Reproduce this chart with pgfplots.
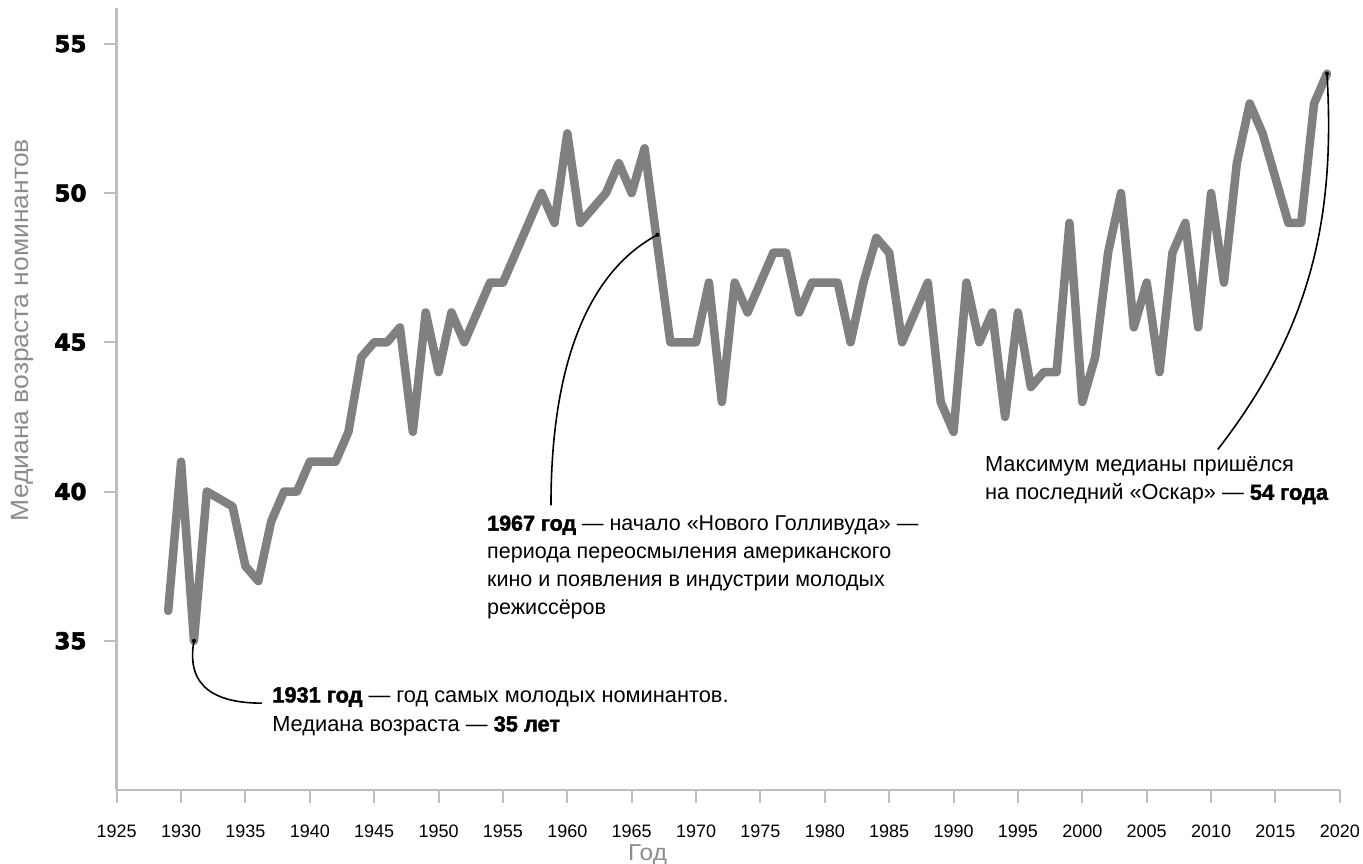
\documentclass[border=0pt]{standalone}
\usepackage{fontspec}
\setmainfont{Liberation Sans}
\newfontfamily\heavyfont{DejaVu Sans Bold}[FakeBold=2.8]
\newfontfamily\bfont{Liberation Sans Bold}[FakeBold=2]
\newfontfamily\labfont{Liberation Sans}[FakeStretch=1.06]
\usepackage{pgfplots}
\pgfplotsset{compat=1.18}
\definecolor{linegray}{RGB}{128,128,128}
\definecolor{axisgray}{RGB}{190,190,190}
\definecolor{labelgray}{RGB}{140,140,140}

\pgfplotstableread{
year age
1929 36
1930 41
1931 35
1932 40
1933 39.75
1934 39.5
1935 37.5
1936 37
1937 39
1938 40
1939 40
1940 41
1941 41
1942 41
1943 42
1944 44.5
1945 45
1946 45
1947 45.5
1948 42
1949 46
1950 44
1951 46
1952 45
1953 46
1954 47
1955 47
1956 48
1957 49
1958 50
1959 49
1960 52
1961 49
1962 49.5
1963 50
1964 51
1965 50
1966 51.5
1967 48.25
1968 45
1969 45
1970 45
1971 47
1972 43
1973 47
1974 46
1975 47
1976 48
1977 48
1978 46
1979 47
1980 47
1981 47
1982 45
1983 47
1984 48.5
1985 48
1986 45
1987 46
1988 47
1989 43
1990 42
1991 47
1992 45
1993 46
1994 42.5
1995 46
1996 43.5
1997 44
1998 44
1999 49
2000 43
2001 44.5
2002 48
2003 50
2004 45.5
2005 47
2006 44
2007 48
2008 49
2009 45.5
2010 50
2011 47
2012 51
2013 53
2014 52
2015 50.5
2016 49
2017 49
2018 53
2019 54
}\datatable

\begin{document}
\begin{tikzpicture}
\path[use as bounding box] (0,0) rectangle (1363pt,863pt);
\begin{axis}[
  at={(116.7pt,73pt)}, anchor=south west,
  scale only axis, width=1223.3pt, height=782pt,
  xmin=1925, xmax=2020, ymin=30, ymax=56.2,
  axis lines=left,
  axis line style={-, draw=axisgray, line width=2.5pt},
  xtick={1925,1930,...,2020},
  xticklabels={1925,1930,1935,1940,1945,1950,1955,1960,1965,1970,1975,1980,\raisebox{-3pt}{1985},1990,1995,2000,2005,2010,2015,2020},
  ytick={35,40,45,50,55},
  tick style={draw=axisgray, line width=2pt},
  tick align=outside,
  major tick length=13pt,
  /pgf/number format/assume math mode=true,
  /pgf/number format/1000 sep={},
  x tick label style={font=\fontsize{18}{20}\selectfont, text=black, inner sep=0pt, yshift=-22pt},
  y tick label style={font=\heavyfont\fontsize{23}{26}\selectfont, text=black, inner sep=0pt, xshift=-17pt},
  xlabel={Год},
  xlabel style={at={(axis description cs:0.434,-0.0825)}, anchor=center, font=\labfont\fontsize{23}{25}\selectfont, text=labelgray},
  ylabel={Медиана возраста номинантов},
  ylabel style={at={(axis description cs:-0.0774,0.588)}, anchor=center, font=\labfont\fontsize{25}{28}\selectfont, text=labelgray},
  clip=false,
]
\addplot[linegray, line width=8.5pt, line join=round, line cap=round] table[x=year,y=age]{\datatable};

% 1931 annotation
\draw[black, line width=1.6pt] (axis cs:1931,35) .. controls (axis cs:1930.31,33.35) and (axis cs:1933.02,32.91) .. (axis cs:1936.28,32.91);
\fill[black] (axis cs:1931,35) circle (2pt);
\node[anchor=north west, inner sep=0pt, align=left, font=\fontsize{21.8}{29}\selectfont] at (axis cs:1937.07,33.45)
  {{\bfont 1931 год} — год самых молодых номинантов.\\Медиана возраста — {\bfont 35 лет}};

% 1967 annotation
\draw[black, line width=1.6pt] (axis cs:1967.0,48.6) .. controls (axis cs:1961.76,47.40) and (axis cs:1958.73,44.39) .. (axis cs:1958.73,39.54);
\fill[black] (axis cs:1967.0,48.6) circle (2pt);
\node[anchor=north west, inner sep=0pt, align=left, font=\fontsize{21.5}{28}\selectfont] at (axis cs:1953.76,39.2)
  {{\bfont 1967 год} — начало «Нового Голливуда» —\\периода переосмыления американского\\кино и появления в индустрии молодых\\режиссёров};

% 2019 annotation
\draw[black, line width=1.6pt] (axis cs:2019,54) .. controls (axis cs:2019.69,49.08) and (axis cs:2017.67,45.39) .. (axis cs:2010.52,41.41);
\fill[black] (axis cs:2019,54) circle (2pt);
\node[anchor=north west, inner sep=0pt, align=left, font=\fontsize{21.8}{28}\selectfont] at (axis cs:1992.43,41.17)
  {Максимум медианы пришёлся\\на последний «Оскар» — {\bfont 54 года}};
\end{axis}
\end{tikzpicture}
\end{document}
